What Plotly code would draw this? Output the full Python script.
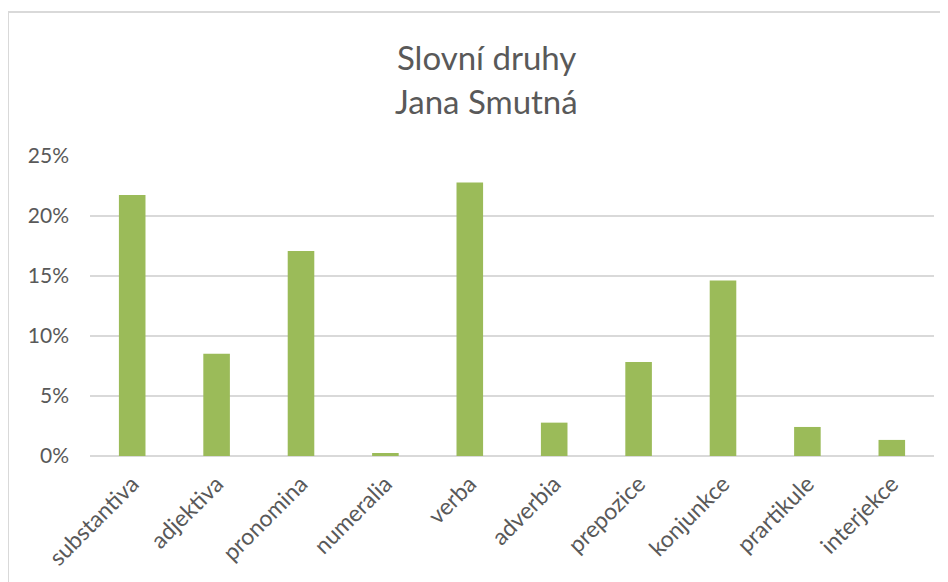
import plotly.graph_objects as go

categories = ["substantiva", "adjektiva", "pronomina", "numeralia", "verba",
              "adverbia", "prepozice", "konjunkce", "prartikule", "interjekce"]
values = [0.2174, 0.0853, 0.1708, 0.0025, 0.2279, 0.0278, 0.0783, 0.1463, 0.0242, 0.0134]
title_lines = ["Slovní druhy", "Jana Smutná"]
y_ticks = [0, 0.05, 0.10, 0.15, 0.20, 0.25]

FONT = "Lato, 'Open Sans', sans-serif"
GRAY = "#595959"

OFF = 8  # page body margin
W, H = 948 - OFF, 582 - OFF
L, R, T, B = 90 - OFF, 14, 156 - OFF, 126
pw, ph = W - L - R, H - T - B

def px_x(x):
    return (x - OFF - L) / pw

def px_y(y):
    return (H - B - (y - OFF)) / ph

fig = go.Figure()
fig.add_trace(go.Bar(
    x=categories, y=values,
    marker=dict(color="#9BBB59", line=dict(width=0)),
    width=0.315,
))

fig.update_layout(
    width=W, height=H,
    margin=dict(l=L, r=R, t=T, b=B),
    paper_bgcolor="white", plot_bgcolor="white",
    showlegend=False,
    font=dict(family=FONT, color=GRAY, size=21),
)
fig.update_xaxes(
    tickangle=-45, tickfont=dict(size=23, color=GRAY, family=FONT),
    showgrid=False, showline=False, ticks="", zeroline=False,
    ticklabelstandoff=9,
)
fig.update_yaxes(
    range=[0, 0.25], tickvals=y_ticks, tickformat=".0%",
    tickfont=dict(size=21, color=GRAY, family=FONT),
    showgrid=True, gridcolor="#d9d9d9", gridwidth=1.5,
    zeroline=True, zerolinecolor="#d9d9d9", zerolinewidth=1.5,
    showline=False, ticks="", ticklabelstandoff=20,
)

for txt, yc in zip(title_lines, [57, 101]):
    fig.add_annotation(text=txt, xref="paper", yref="paper",
                       x=px_x(486), y=px_y(yc), showarrow=False,
                       xanchor="center", yanchor="middle",
                       font=dict(size=33, color=GRAY, family=FONT))

fig.add_shape(type="rect", xref="paper", yref="paper",
              x0=px_x(8), x1=px_x(1000), y0=px_y(12), y1=px_y(700),
              line=dict(color="#d9d9d9", width=2), fillcolor="rgba(0,0,0,0)",
              layer="below")

fig.write_html("out.html")
